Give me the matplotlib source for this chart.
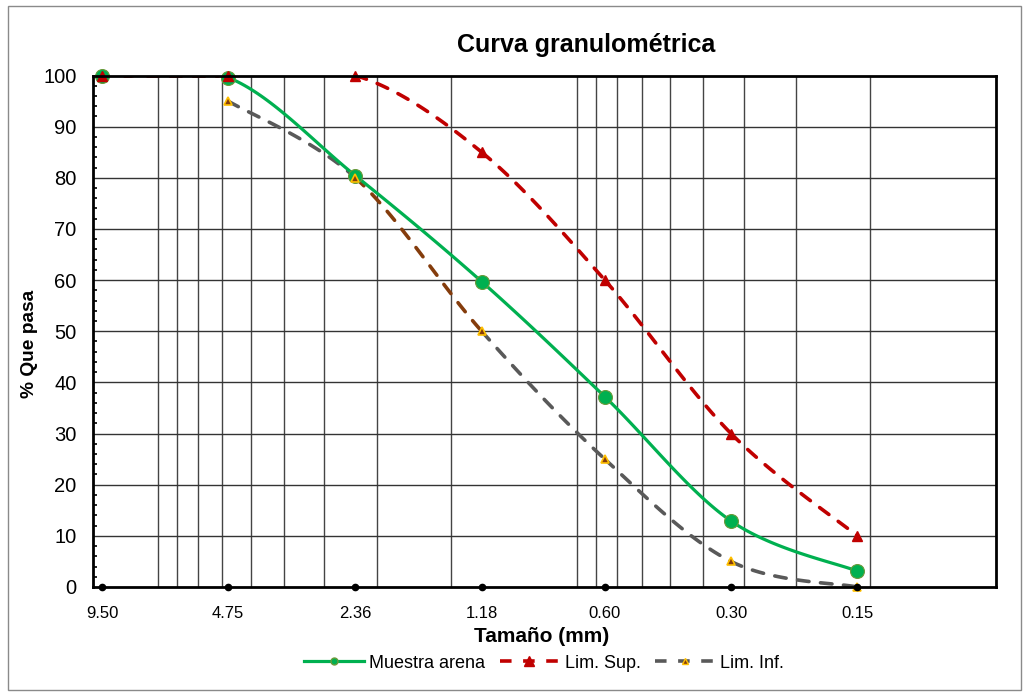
"""Curva granulometrica - arena."""

import matplotlib
matplotlib.use("Agg")
import matplotlib.pyplot as plt
import numpy as np
from matplotlib.lines import Line2D
from matplotlib.patches import Rectangle
from matplotlib.ticker import FixedLocator, MultipleLocator, NullLocator

plt.rcParams["font.family"] = ["Liberation Sans", "DejaVu Sans"]

SIEVES = [9.50, 4.75, 2.36, 1.18, 0.60, 0.30, 0.15]
SIEVE_LABELS = ["9.50", "4.75", "2.36", "1.18", "0.60", "0.30", "0.15"]
MUESTRA = [100.0, 99.6, 80.4, 59.7, 37.2, 12.9, 3.1]
LIM_SUP = [100, 100, 100, 85, 60, 30, 10]
LIM_INF_SIEVES = [4.75, 2.36, 1.18, 0.60, 0.30, 0.15]
LIM_INF = [95, 80, 50, 25, 5, 0]

GREEN = "#00b050"
RED = "#c00000"
GRAY = "#595959"
BROWN = "#843c0c"
GOLD = "#ffc000"


def smooth(xs, ys, n=40):
    # Excel-like smoothed line: Bezier segments in (log x, y)
    lx = np.log10(np.asarray(xs, dtype=float))
    y = np.asarray(ys, dtype=float)
    pts = np.column_stack([lx, y])
    k = len(pts)
    segs = []
    for i in range(k - 1):
        p0 = pts[i - 1] if i > 0 else pts[i]
        p1 = pts[i]
        p2 = pts[i + 1]
        p3 = pts[i + 2] if i + 2 < k else pts[i + 1]
        c1 = p1 + (p2 - p0) / 6.0
        c2 = p2 - (p3 - p1) / 6.0
        t = np.linspace(0, 1, n)[:, None]
        b = ((1 - t) ** 3) * p1 + 3 * ((1 - t) ** 2) * t * c1 + 3 * (1 - t) * t ** 2 * c2 + t ** 3 * p2
        segs.append(b)
    return [(10 ** s[:, 0], s[:, 1]) for s in segs]


fig = plt.figure(figsize=(10.29, 6.98), dpi=100, facecolor="white")
ax = fig.add_axes([92.6 / 1029, 1 - 587 / 698, (996 - 92.6) / 1029, (587 - 75.5) / 698])

ax.set_xscale("log")
ax.set_xlim(10, 0.07)
ax.set_ylim(0, 100)

# gridlines: Excel log minor steps
grid_x = [7.0, 6.3, 5.6, 4.9, 4.2, 3.5, 2.8, 2.1, 1.4,
          0.7, 0.63, 0.56, 0.49, 0.42, 0.35, 0.28, 0.21, 0.14]
for gx in grid_x:
    ax.axvline(gx, color="#444444", linewidth=1.0, zorder=1)
for gy in range(10, 100, 10):
    ax.axhline(gy, color="#333333", linewidth=1.0, zorder=1)

sty = dict(solid_capstyle="round", dash_capstyle="round")

# Muestra arena
for sx, sy in smooth(SIEVES, MUESTRA):
    ax.plot(sx, sy, color=GREEN, linewidth=2.3, zorder=4, **sty)
ax.plot(SIEVES, MUESTRA, linestyle="none", marker="o", markersize=10,
        markerfacecolor=GREEN, markeredgecolor="#6a9a3a", markeredgewidth=0.8,
        zorder=5, clip_on=False)

# Lim. Sup.
for sx, sy in smooth(SIEVES, LIM_SUP):
    ax.plot(sx, sy, color=RED, linewidth=2.6, dashes=(3.2, 3.2), zorder=3, **sty)
ax.plot(SIEVES, LIM_SUP, linestyle="none", marker="^", markersize=7,
        markerfacecolor=RED, markeredgecolor=RED, zorder=6, clip_on=False)

# Lim. Inf.
for i, (sx, sy) in enumerate(smooth(LIM_INF_SIEVES, LIM_INF)):
    c = BROWN if i == 1 else GRAY
    ax.plot(sx, sy, color=c, linewidth=2.6, dashes=(3.2, 3.2), zorder=3, **sty)
ax.plot(LIM_INF_SIEVES, LIM_INF, linestyle="none", marker="^", markersize=6,
        markerfacecolor=BROWN, markeredgecolor=GOLD, markeredgewidth=1.2,
        zorder=6, clip_on=False)

# sieve markers on the axis
ax.plot(SIEVES, [0] * len(SIEVES), linestyle="none", marker="o", markersize=4.5,
        color="black", zorder=7, clip_on=False)

for side in ax.spines.values():
    side.set_linewidth(2.0)
    side.set_color("black")
    side.set_zorder(8)

ax.xaxis.set_major_locator(FixedLocator(SIEVES))
ax.xaxis.set_minor_locator(NullLocator())
ax.set_xticklabels(SIEVE_LABELS)
ax.tick_params(axis="x", length=0, pad=14, labelsize=12)

ax.yaxis.set_major_locator(MultipleLocator(10))
ax.yaxis.set_minor_locator(MultipleLocator(2))
ax.tick_params(axis="y", which="major", length=0, pad=11.5, labelsize=14.5)
ax.tick_params(axis="y", which="minor", direction="in", length=3, width=1.2)

fig.text(586 / 1029, 1 - 45 / 698, "Curva granulométrica", ha="center", va="center",
         fontsize=18, fontweight="bold")
fig.text(542 / 1029, 1 - 636 / 698, "Tamaño (mm)", ha="center", va="center",
         fontsize=15, fontweight="bold")
fig.text(30 / 1029, 1 - 344 / 698, "% Que pasa", ha="center", va="center",
         rotation=90, fontsize=13.8, fontweight="bold")

handles = [
    Line2D([], [], color=GREEN, linewidth=2.3, marker="o", markersize=5,
           markerfacecolor=GREEN, markeredgecolor="#6a9a3a"),
    Line2D([], [], color=RED, linewidth=2.6, dashes=(3.2, 3.2), marker="^",
           markersize=7, markerfacecolor=RED, markeredgecolor=RED),
    Line2D([], [], color=GRAY, linewidth=2.6, dashes=(3.2, 3.2), marker="^",
           markersize=5, markerfacecolor=BROWN, markeredgecolor=GOLD),
]
fig.legend(handles, ["Muestra arena", "Lim. Sup.", "Lim. Inf."],
           loc="center", bbox_to_anchor=(544 / 1029, 1 - 663 / 698), ncol=3,
           frameon=False, fontsize=13, handlelength=3.3, columnspacing=0.8,
           handletextpad=0.3)

fig.patches.append(Rectangle((8 / 1029, 1 - 690 / 698), 1013 / 1029, 684 / 698,
                             transform=fig.transFigure, fill=False,
                             edgecolor="#8a8a8a", linewidth=1.0))

fig.savefig("out.png", dpi=100, facecolor="white")
